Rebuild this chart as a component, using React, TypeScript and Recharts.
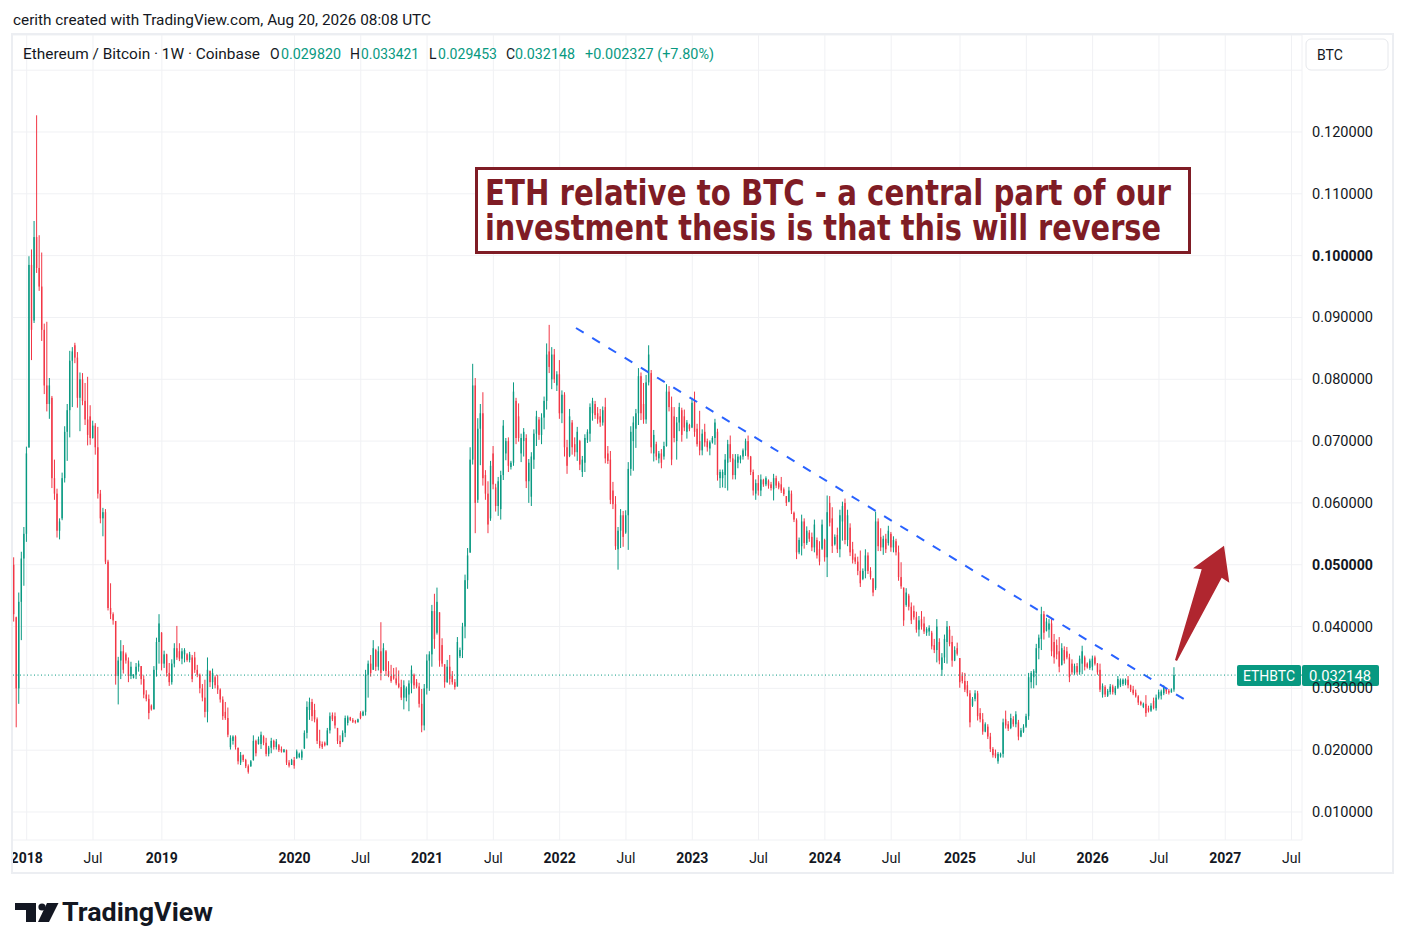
import React from 'react'
import { ComposedChart, Bar, XAxis, YAxis, CartesianGrid, ReferenceLine } from 'recharts'

const GREEN = '#089981'
const RED = '#f23645'
const GRID = '#f0f1f4'
const TEXT = '#131722'
const NOTE = '#7f1c25'
const FONT = 'Roboto, sans-serif'

// candle tables are in units of 0.0001 BTC
const UNIT = 0.0001

// weekly ETH/BTC candles as [open, high, low, close]
const WEEKS_2017 = [
  [500, 512, 408, 420], [415, 416, 237, 300], [300, 455, 275, 440], [440, 521, 378, 510], [510, 561, 466, 550],
]
const WEEKS_2018 = [
  [550, 691, 537, 680], [690, 999, 689, 985], [985, 1010, 831, 880], [895, 1056, 891, 1030], [1030, 1227, 972, 980],
  [980, 1033, 943, 950], [950, 1005, 862, 880], [880, 890, 776, 790], [790, 893, 748, 760], [760, 802, 736, 790],
  [770, 773, 624, 640], [640, 670, 605, 615], [615, 623, 544, 555], [555, 575, 541, 570], [575, 649, 572, 640],
  [640, 724, 633, 715], [715, 760, 668, 750], [750, 846, 706, 830], [830, 852, 755, 845], [855, 859, 826, 835],
  [835, 844, 754, 770], [770, 811, 716, 800], [800, 810, 758, 765], [765, 794, 726, 735], [735, 804, 693, 710],
  [740, 758, 694, 705], [705, 733, 704, 725], [725, 729, 678, 690], [690, 723, 607, 615], [615, 621, 567, 575],
  [575, 592, 546, 585], [585, 590, 501, 505], [505, 508, 426, 430], [430, 470, 412, 420], [420, 423, 403, 410],
  [409, 409, 306, 320], [320, 351, 274, 345], [345, 378, 315, 360], [360, 370, 324, 330], [355, 358, 340, 345],
  [345, 350, 310, 320], [320, 343, 315, 335], [317, 323, 316, 322], [322, 341, 315, 335], [335, 345, 327, 340],
  [336, 336, 306, 315], [315, 321, 284, 290], [290, 297, 279, 283], [283, 290, 250, 260], [272, 274, 264, 266],
  [266, 336, 266, 330], [330, 382, 319, 375], [375, 420, 340, 405],
]
const WEEKS_2019 = [
  [390, 391, 329, 340], [340, 361, 333, 355], [355, 356, 319, 325], [325, 341, 304, 310], [310, 347, 306, 340],
  [340, 373, 334, 365], [365, 401, 346, 350], [360, 373, 344, 348], [348, 365, 339, 360], [355, 365, 342, 362],
  [355, 357, 343, 346], [346, 359, 342, 355], [350, 354, 310, 315], [350, 359, 325, 330], [330, 338, 318, 322],
  [322, 324, 292, 300], [300, 307, 279, 285], [285, 314, 253, 262], [262, 350, 245, 330], [328, 329, 302, 310],
  [310, 332, 299, 325], [318, 321, 300, 305], [305, 322, 291, 298], [298, 300, 277, 282], [282, 287, 249, 255],
  [262, 278, 249, 252], [252, 269, 221, 225], [205, 224, 201, 220], [215, 224, 209, 222], [222, 224, 201, 205],
  [204, 204, 177, 182], [180, 197, 176, 192], [192, 193, 181, 184], [184, 186, 171, 174], [174, 177, 162, 165],
  [174, 184, 173, 182], [184, 224, 183, 215], [215, 217, 190, 195], [210, 222, 209, 218], [210, 230, 202, 225],
  [222, 224, 208, 212], [212, 220, 190, 194], [194, 207, 190, 204], [204, 220, 195, 215], [215, 217, 201, 205],
  [205, 218, 201, 214], [208, 210, 197, 200], [202, 206, 196, 198], [197, 202, 196, 201], [200, 201, 176, 180],
  [180, 184, 172, 175], [176, 186, 176, 184],
]
const WEEKS_2020 = [
  [184, 189, 170, 175], [187, 201, 186, 198], [189, 196, 187, 194], [188, 201, 184, 198], [203, 232, 202, 228],
  [228, 279, 219, 270], [265, 285, 249, 278], [278, 283, 247, 255], [265, 275, 245, 250], [250, 253, 210, 215],
  [215, 233, 203, 207], [210, 214, 202, 205], [212, 214, 206, 208], [208, 236, 208, 232], [232, 261, 227, 255],
  [257, 261, 247, 250], [255, 261, 235, 240], [236, 236, 210, 215], [215, 224, 205, 210], [214, 232, 213, 228],
  [228, 256, 221, 252], [244, 256, 240, 253], [253, 254, 247, 249], [249, 252, 244, 246], [247, 249, 243, 245],
  [245, 251, 245, 250], [260, 263, 250, 252], [256, 264, 255, 262], [262, 330, 256, 322], [322, 345, 285, 340],
  [340, 354, 319, 325], [330, 378, 330, 365], [362, 364, 328, 335], [335, 368, 329, 360], [360, 407, 313, 325],
  [330, 373, 328, 365], [360, 362, 320, 328], [328, 344, 318, 320], [320, 338, 309, 312], [322, 333, 314, 316],
  [316, 334, 305, 308], [308, 329, 300, 302], [302, 314, 281, 285], [285, 313, 266, 305], [285, 303, 279, 300],
  [290, 313, 263, 308], [308, 337, 292, 330], [322, 324, 299, 305], [310, 315, 300, 303], [303, 309, 269, 275],
  [275, 299, 229, 240], [240, 307, 232, 300],
]
const WEEKS_2021 = [
  [300, 355, 290, 345], [345, 360, 296, 355], [355, 435, 335, 425], [425, 453, 364, 380], [390, 463, 387, 440],
  [423, 423, 335, 345], [370, 381, 335, 340], [339, 339, 301, 310], [310, 346, 309, 335], [335, 354, 306, 315],
  [320, 328, 306, 310], [310, 315, 298, 302], [303, 383, 303, 375], [352, 366, 349, 362], [362, 406, 349, 400],
  [400, 484, 381, 475], [475, 527, 461, 515], [520, 690, 519, 670], [670, 825, 662, 790], [790, 802, 551, 600],
  [605, 737, 600, 720], [720, 760, 661, 745], [745, 779, 628, 640], [645, 653, 605, 615], [615, 635, 551, 565],
  [575, 668, 571, 660], [680, 692, 622, 630], [625, 631, 586, 595], [595, 642, 579, 635], [590, 652, 573, 645],
  [645, 734, 637, 725], [680, 705, 669, 700], [700, 706, 650, 660], [658, 668, 654, 665], [665, 795, 660, 780],
  [765, 770, 695, 705], [740, 761, 699, 705], [680, 712, 666, 705], [700, 721, 675, 715], [705, 711, 624, 635],
  [635, 671, 600, 665], [610, 682, 595, 675], [670, 719, 655, 712], [712, 749, 692, 740], [735, 739, 702, 710],
  [710, 745, 695, 738], [738, 772, 719, 765], [765, 858, 751, 840], [845, 888, 810, 820], [800, 852, 784, 840],
  [840, 849, 794, 800], [790, 813, 781, 808],
]
const WEEKS_2022 = [
  [808, 831, 736, 745], [745, 782, 729, 775], [775, 779, 675, 690], [690, 702, 647, 660], [676, 752, 674, 740],
  [730, 734, 678, 690], [695, 706, 675, 682], [682, 723, 668, 715], [700, 702, 653, 662], [650, 676, 642, 670],
  [665, 711, 650, 705], [702, 719, 697, 715], [712, 761, 699, 755], [745, 770, 733, 765], [760, 765, 736, 742],
  [745, 755, 728, 735], [740, 752, 723, 730], [730, 756, 725, 750], [755, 770, 664, 672], [680, 692, 663, 668],
  [670, 684, 598, 605], [620, 634, 590, 598], [598, 611, 524, 530], [525, 561, 492, 555], [555, 590, 527, 580],
  [580, 587, 529, 545], [552, 588, 550, 580], [580, 666, 524, 655], [655, 724, 644, 715], [700, 740, 652, 730],
  [720, 752, 689, 745], [745, 818, 726, 805], [805, 811, 734, 745], [760, 794, 728, 735], [735, 807, 728, 795],
  [795, 855, 790, 840], [810, 815, 680, 690], [680, 718, 667, 710], [695, 699, 669, 675], [672, 684, 664, 680],
  [680, 687, 656, 665], [675, 699, 670, 692], [692, 792, 691, 780], [780, 789, 748, 755], [755, 772, 661, 670],
  [740, 755, 698, 705], [700, 739, 670, 730], [730, 762, 716, 755], [750, 754, 699, 710], [740, 751, 716, 722],
  [715, 734, 704, 730], [726, 728, 716, 720],
]
const WEEKS_2023 = [
  [722, 770, 721, 762], [765, 780, 707, 715], [720, 728, 691, 695], [700, 749, 677, 685], [685, 719, 677, 712],
  [715, 728, 691, 698], [700, 704, 683, 690], [688, 701, 677, 698], [698, 708, 696, 705], [705, 736, 694, 730],
  [715, 720, 636, 645], [640, 654, 624, 650], [640, 654, 625, 650], [645, 679, 624, 670], [665, 702, 620, 695],
  [695, 709, 666, 672], [672, 679, 638, 645], [645, 679, 638, 670], [665, 679, 656, 675], [670, 677, 664, 675],
  [675, 688, 670, 685], [685, 704, 676, 700], [700, 709, 670, 675], [675, 676, 645, 650], [650, 654, 612, 620],
  [615, 638, 605, 632], [632, 645, 612, 620], [620, 646, 611, 638], [637, 639, 626, 630], [630, 643, 627, 640],
  [636, 638, 623, 628], [630, 634, 620, 624], [622, 647, 604, 640], [640, 644, 624, 628], [632, 635, 622, 625],
  [630, 642, 616, 620], [622, 625, 611, 614], [611, 611, 595, 600], [602, 626, 601, 620], [615, 620, 582, 588],
  [584, 586, 569, 573], [572, 575, 509, 520], [520, 544, 517, 540], [530, 581, 515, 570], [570, 575, 526, 535],
  [535, 562, 532, 555], [552, 556, 537, 542], [545, 552, 522, 528], [528, 573, 520, 565], [540, 544, 510, 515],
  [525, 538, 499, 505], [526, 573, 524, 565],
]
const WEEKS_2024 = [
  [540, 542, 505, 512], [512, 612, 480, 585], [600, 611, 562, 568], [575, 593, 519, 530], [533, 549, 531, 545],
  [548, 560, 519, 525], [525, 589, 512, 580], [570, 602, 539, 595], [600, 607, 533, 540], [540, 589, 530, 580],
  [560, 567, 514, 520], [525, 537, 502, 508], [512, 518, 501, 505], [505, 513, 483, 490], [490, 523, 464, 470],
  [477, 494, 475, 490], [490, 525, 478, 515], [515, 520, 485, 490], [490, 496, 476, 480], [478, 478, 449, 455],
  [462, 586, 459, 570], [570, 575, 522, 530], [545, 559, 522, 528], [528, 547, 516, 542], [542, 550, 519, 525],
  [535, 563, 531, 555], [550, 553, 521, 528], [528, 546, 520, 540], [538, 542, 515, 520], [520, 531, 474, 480],
  [480, 504, 461, 465], [463, 463, 401, 410], [435, 462, 432, 455], [450, 453, 426, 432], [432, 439, 404, 410],
  [425, 434, 411, 415], [415, 424, 390, 395], [395, 417, 384, 410], [412, 425, 395, 400], [405, 416, 388, 392],
  [390, 399, 385, 396], [392, 402, 385, 398], [390, 393, 363, 368], [370, 380, 357, 362], [362, 412, 342, 400],
  [375, 381, 339, 345], [330, 357, 320, 350], [350, 387, 341, 380], [375, 409, 340, 400], [395, 401, 368, 372],
  [375, 385, 335, 345], [345, 368, 344, 362], [365, 374, 353, 356],
]
const WEEKS_2025 = [
  [349, 349, 301, 310], [320, 326, 308, 312], [312, 325, 294, 298], [305, 312, 287, 292], [292, 297, 237, 245],
  [272, 286, 270, 283], [283, 297, 279, 292], [292, 296, 248, 255], [260, 268, 245, 250], [250, 260, 225, 230],
  [230, 245, 229, 242], [238, 242, 218, 222], [222, 228, 197, 202], [202, 205, 188, 192], [195, 201, 187, 190],
  [182, 197, 178, 194], [190, 196, 188, 194], [194, 251, 188, 245], [250, 264, 235, 240], [242, 247, 231, 235],
  [236, 259, 234, 252], [250, 255, 238, 242], [242, 263, 237, 258], [245, 249, 216, 222], [222, 236, 221, 232],
  [230, 242, 228, 238], [238, 259, 236, 255], [255, 325, 249, 318], [310, 328, 300, 325], [318, 331, 300, 328],
  [325, 372, 305, 365], [365, 387, 347, 382], [380, 432, 362, 420], [420, 425, 379, 390], [393, 414, 392, 408],
  [395, 412, 382, 405], [405, 414, 352, 360], [375, 388, 340, 350], [370, 379, 347, 355], [360, 383, 326, 335],
  [338, 373, 337, 365], [362, 368, 340, 345], [360, 367, 347, 350], [350, 356, 310, 318], [340, 347, 322, 326],
  [325, 340, 322, 336], [336, 341, 322, 326], [326, 353, 322, 348], [340, 369, 323, 360], [350, 353, 329, 335],
  [340, 342, 332, 334], [333, 348, 330, 345],
]
const WEEKS_2026 = [
  [335, 353, 329, 348], [350, 353, 337, 340], [340, 341, 322, 326], [330, 340, 294, 298], [290, 308, 285, 304],
  [302, 305, 286, 290], [288, 299, 286, 296], [294, 307, 290, 303], [303, 306, 290, 294], [292, 304, 289, 301],
  [301, 320, 299, 315], [305, 316, 302, 313], [307, 316, 304, 314], [308, 316, 305, 314], [314, 320, 300, 305],
  [305, 306, 294, 297], [298, 304, 289, 292], [293, 298, 285, 287], [287, 289, 273, 277], [278, 280, 272, 274],
  [270, 277, 268, 275], [275, 289, 254, 260], [268, 272, 261, 264], [264, 276, 262, 272], [280, 285, 266, 268],
  [268, 290, 264, 285], [285, 298, 282, 294], [288, 298, 282, 295], [292, 305, 289, 302], [299, 300, 291, 295],
  [296, 299, 290, 293], [293.5, 300, 293, 298.2], [298.2, 334.21, 294.53, 321.48],
]
const YEAR_TABLES = [
  WEEKS_2017, WEEKS_2018, WEEKS_2019, WEEKS_2020, WEEKS_2021,
  WEEKS_2022, WEEKS_2023, WEEKS_2024, WEEKS_2025, WEEKS_2026,
]
// first candle is the week of 27 Nov 2017; week 0 is the week of 1 Jan 2018
const FIRST_WEEK = -5

const LAST = { open: 0.02982, high: 0.033421, low: 0.029453, close: 0.032148, change: 0.002327, pct: 7.8 }

const X_TICK_MONTHS = [
  '2018-01', '2018-07', '2019-01', '2020-01', '2020-07', '2021-01', '2021-07', '2022-01', '2022-07',
  '2023-01', '2023-07', '2024-01', '2024-07', '2025-01', '2025-07', '2026-01', '2026-07', '2027-01', '2027-07',
]
const Y_TICKS = [0.01, 0.02, 0.03, 0.04, 0.05, 0.06, 0.07, 0.08, 0.09, 0.1, 0.11, 0.12, 0.13]
const TREND = [{ x: 215.4, y: 0.08829 }, { x: 455, y: 0.02796 }]

const WEEK_MS = 7 * 86400000
const EPOCH = Date.UTC(2018, 0, 1)

// index of the first weekly bar (Monday) of a month
function firstBarOf(ym: string) {
  const [y, m] = ym.split('-').map(Number)
  const first = Date.UTC(y, m - 1, 1)
  const dow = new Date(first).getUTCDay()
  const shift = (1 - dow + 7) % 7
  return Math.round((first + shift * 86400000 - EPOCH) / WEEK_MS)
}

const data: any[] = []
let week = FIRST_WEEK
for (const table of YEAR_TABLES) {
  for (const [o, h, l, c] of table) {
    data.push({ w: week, open: o * UNIT, high: h * UNIT, low: l * UNIT, close: c * UNIT })
    week++
  }
}

const xLabels = new Map<number, string>()
X_TICK_MONTHS.forEach((ym) => {
  xLabels.set(firstBarOf(ym), ym.endsWith('-01') ? ym.slice(0, 4) : 'Jul')
})
const xTicks = Array.from(xLabels.keys())

function Candle(props: any) {
  const { x, y, width, height, payload } = props
  if (x == null || y == null || !payload) return null
  const top = Math.min(y, y + height)
  const h = Math.abs(height)
  const { open, close, high, low } = payload
  const color = close >= open ? GREEN : RED
  const cx = x + width / 2
  const span = high - low || 1e-9
  const yOf = (v: number) => top + ((high - v) / span) * h
  const b1 = yOf(Math.max(open, close))
  const b2 = yOf(Math.min(open, close))
  return (
    <g>
      <line x1={cx} x2={cx} y1={top} y2={top + Math.max(h, 1)} stroke={color} strokeWidth={1} />
      <rect x={cx - 0.7} y={b1} width={1.4} height={Math.max(b2 - b1, 1)} fill={color} />
    </g>
  )
}

function YTick(props: any) {
  const { x, y, payload } = props
  const v = payload.value
  if (v > 0.125) return null
  const strong = Math.abs(v - 0.1) < 1e-9 || Math.abs(v - 0.05) < 1e-9
  return (
    <text x={x + 2} y={y} dy={5} textAnchor="start" fontFamily={FONT} fontSize={14}
      fontWeight={strong ? 700 : 400} fill={TEXT} textLength={61} lengthAdjust="spacingAndGlyphs">
      {v.toFixed(6)}
    </text>
  )
}

function XTick(props: any) {
  const { x, y, payload } = props
  const label = xLabels.get(payload.value) || ''
  const isYear = label !== 'Jul'
  return (
    <text x={x} y={y} dy={15} textAnchor="middle" fontFamily={FONT} fontSize={14}
      fontWeight={isYear ? 700 : 400} fill={TEXT}>
      {label}
    </text>
  )
}

function PriceTag(props: any) {
  const vb = props.viewBox
  if (!vb) return null
  const right = vb.x + vb.width
  const y = vb.y
  return (
    <g>
      <rect x={right - 65} y={y - 10} width={64} height={21} rx={2} fill={GREEN} />
      <text x={right - 33} y={y + 5.5} textAnchor="middle" fontFamily={FONT} fontSize={14} fill="#fff">ETHBTC</text>
      <rect x={right} y={y - 10} width={77} height={21} rx={2} fill={GREEN} />
      <text x={right + 38} y={y + 5.5} textAnchor="middle" fontFamily={FONT} fontSize={14} fill="#fff"
        textLength={62} lengthAdjust="spacingAndGlyphs">{LAST.close.toFixed(6)}</text>
    </g>
  )
}

function Overlay() {
  const green = { fill: GREEN }
  return (
    <svg width={1406} height={950} style={{ position: 'absolute', left: 0, top: 0, pointerEvents: 'none' }}>
      <rect x={0} y={842} width={12} height={30} fill="#fff" />
      <rect x={12} y={34} width={1381} height={839} fill="none" stroke="#eceef2" strokeWidth={2} />
      <text x={13} y={25} fontFamily={FONT} fontSize={14.5} fill={TEXT} textLength={418} lengthAdjust="spacingAndGlyphs">
        cerith created with TradingView.com, Aug 20, 2026 08:08 UTC
      </text>
      <g fontFamily={FONT} fontSize={14} fill={TEXT}>
        <text x={23} y={59} textLength={237} lengthAdjust="spacingAndGlyphs">Ethereum / Bitcoin · 1W · Coinbase</text>
        <text x={270} y={59}>O</text>
        <text x={281} y={59} {...green} textLength={60} lengthAdjust="spacingAndGlyphs">{LAST.open.toFixed(6)}</text>
        <text x={350} y={59}>H</text>
        <text x={361} y={59} {...green} textLength={58} lengthAdjust="spacingAndGlyphs">{LAST.high.toFixed(6)}</text>
        <text x={429} y={59}>L</text>
        <text x={438} y={59} {...green} textLength={59} lengthAdjust="spacingAndGlyphs">{LAST.low.toFixed(6)}</text>
        <text x={506} y={59}>C</text>
        <text x={515} y={59} {...green} textLength={60} lengthAdjust="spacingAndGlyphs">{LAST.close.toFixed(6)}</text>
        <text x={585} y={59} {...green} textLength={129} lengthAdjust="spacingAndGlyphs">
          {`+${LAST.change.toFixed(6)} (+${LAST.pct.toFixed(2)}%)`}
        </text>
      </g>
      <rect x={1306} y={39} width={82} height={31} rx={5} fill="#fff" stroke="#e6e8ec" strokeWidth={1} />
      <text x={1317} y={60} fontFamily={FONT} fontSize={14} fill={TEXT}>BTC</text>

      <rect x={476.5} y={168.5} width={713} height={84} fill="#fff" stroke={NOTE} strokeWidth={3} />
      <g fontFamily="'DejaVu Sans Condensed', 'DejaVu Sans', sans-serif" fontSize={35} fontWeight={700}
        fill={NOTE} style={{ fontStretch: 'condensed' }}>
        <text x={485} y={205} textLength={686} lengthAdjust="spacingAndGlyphs">ETH relative to BTC - a central part of our</text>
        <text x={485} y={240} textLength={676} lengthAdjust="spacingAndGlyphs">investment thesis is that this will reverse</text>
      </g>

      <polygon points="1175,660 1201.7,569.3 1193,568.3 1224,545.7 1229.3,582.7 1221.7,577.7 1177,661" fill="#b0262f" />

      <g fill="#131722">
        <rect x={15} y={903} width={21} height={7} />
        <rect x={26} y={903} width={10} height={19} />
        <circle cx={42} cy={907} r={3.6} />
        <polygon points="47,903 58.5,903 49,922 38,922" />
      </g>
      <text x={62} y={921} fontFamily={FONT} fontSize={26} fontWeight={700} fill="#131722"
        textLength={151} lengthAdjust="spacingAndGlyphs">TradingView</text>
    </svg>
  )
}

export default function App() {
  return (
    <div style={{ position: 'absolute', left: 0, top: 0, width: 1406, height: 950, background: '#fff', overflow: 'hidden' }}>
      <ComposedChart width={1406} height={950} data={data} margin={{ top: 35, right: 14, bottom: 80, left: 12 }}>
        <CartesianGrid stroke={GRID} strokeWidth={1} />
        <XAxis type="number" dataKey="w" domain={[-5.76, 500.1]} ticks={xTicks} tick={<XTick />} interval={0}
          axisLine={false} tickLine={false} height={30} allowDataOverflow />
        <YAxis orientation="right" type="number" domain={[0.00547, 0.13569]} ticks={Y_TICKS} tick={<YTick />}
          interval={0} axisLine={false} tickLine={false} width={90} allowDataOverflow />
        <ReferenceLine segment={TREND} stroke="#2962ff" strokeWidth={2} strokeDasharray="9 10" />
        <ReferenceLine y={LAST.close} stroke={GREEN} strokeWidth={1} strokeDasharray="1 2.5"
          label={(p: any) => <PriceTag {...p} />} />
        <Bar dataKey={(d: any) => [d.low, d.high]} shape={(p: any) => <Candle {...p} />} barSize={2}
          isAnimationActive={false} />
      </ComposedChart>
      <Overlay />
    </div>
  )
}
